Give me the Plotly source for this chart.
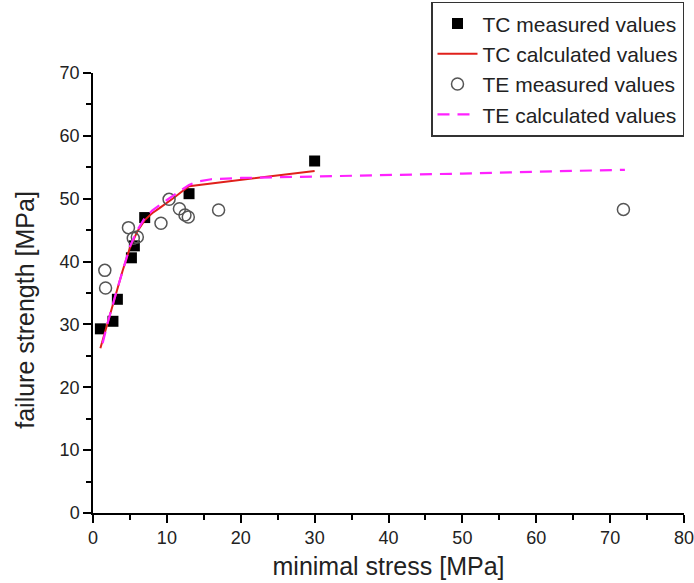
import plotly.graph_objects as go

tc_meas_x = [1.0, 2.7, 3.3, 5.2, 5.6, 7.0, 13.0, 30.0]
tc_meas_y = [29.3, 30.5, 34.0, 40.6, 42.5, 47.0, 50.8, 56.0]

tc_calc_x = [1.0, 2, 3, 4, 5, 6, 7, 8, 9, 10, 11, 12, 13, 30]
tc_calc_y = [26.2, 30.3, 34.5, 38.5, 42.2, 44.8, 46.6, 47.7, 48.5, 49.3, 50.2, 51.1, 52.0, 54.4]

te_meas_x = [1.6, 1.7, 4.8, 5.45, 6.0, 9.2, 10.3, 11.7, 12.45, 12.9, 17.0, 71.8]
te_meas_y = [38.6, 35.8, 45.4, 43.7, 43.9, 46.1, 49.9, 48.4, 47.4, 47.1, 48.2, 48.3]

te_calc_x = [1.3, 2, 3, 4, 5, 6, 7, 8, 9, 10, 11, 12, 13, 14, 16, 20, 30, 40, 50, 60, 72]
te_calc_y = [27.0, 30.3, 34.5, 38.6, 42.4, 45.0, 46.9, 48.1, 49.0, 49.8, 50.6, 51.4, 52.2, 52.7, 53.1, 53.3, 53.5, 53.8, 54.0, 54.3, 54.6]

x_title = "minimal stress [MPa]"
y_title = "failure strength [MPa]"

fig = go.Figure()
fig.add_trace(go.Scatter(x=tc_meas_x, y=tc_meas_y, mode="markers", name="TC measured values",
                         marker=dict(symbol="square", size=11, color="black")))
fig.add_trace(go.Scatter(x=tc_calc_x, y=tc_calc_y, mode="lines", name="TC calculated values",
                         line=dict(color="#e0201b", width=2)))
fig.add_trace(go.Scatter(x=te_meas_x, y=te_meas_y, mode="markers", name="TE measured values",
                         marker=dict(symbol="circle-open", size=12, color="#555555", line=dict(width=1.5))))
fig.add_trace(go.Scatter(x=te_calc_x, y=te_calc_y, mode="lines", name="TE calculated values",
                         line=dict(color="#ff22ff", width=2.2, dash="12px,8px")))

axis_common = dict(showline=True, linecolor="black", linewidth=1.5, ticks="outside", ticklen=8,
                   tickwidth=1.5, tickcolor="black", showgrid=False, zeroline=False,
                   tickfont=dict(size=18, color="#222"), mirror=False, automargin=False,
                   ticklabeloverflow="allow")

fig.update_xaxes(range=[0, 80], dtick=10, title=dict(text=x_title, font=dict(size=25, color="#222"), standoff=10),
                 minor=dict(dtick=5, ticks="outside", ticklen=5, tickwidth=1.5, tickcolor="black"), **axis_common)
fig.update_yaxes(range=[0, 70], dtick=10,
                 minor=dict(dtick=5, ticks="outside", ticklen=5, tickwidth=1.5, tickcolor="black"), **axis_common)

fig.add_annotation(text=y_title, textangle=-90, xref="paper", yref="paper",
                   x=-0.115, y=0.462, xanchor="center", yanchor="middle", showarrow=False,
                   font=dict(size=25, color="#222"))

fig.update_layout(
    width=694, height=583,
    margin=dict(l=93, r=10, t=73, b=70, autoexpand=False),
    paper_bgcolor="white", plot_bgcolor="white",
    font=dict(family="Liberation Sans, Arial, sans-serif", color="#222"),
    legend=dict(x=1, xanchor="right", yref="container", y=0.997, yanchor="top",
                bordercolor="#333", borderwidth=1.5, itemwidth=40,
                font=dict(size=21, color="#222"), bgcolor="white", tracegroupgap=0),
    showlegend=True,
)

fig.write_html("out.html")
